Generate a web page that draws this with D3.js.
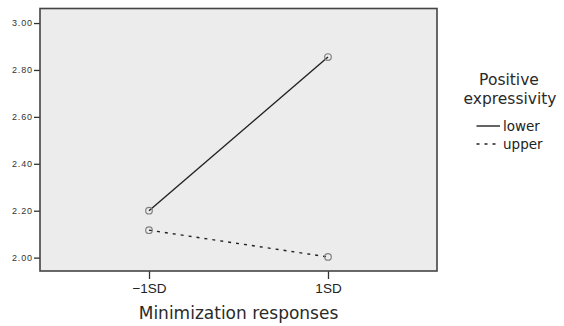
<!DOCTYPE html>
<html>
<head>
<meta charset="utf-8">
<script src="https://cdn.jsdelivr.net/npm/d3@7"></script>
<style>
  body { margin: 0; background: #fff; }
  svg { display: block; font-family: "DejaVu Sans", sans-serif; }
</style>
</head>
<body>
<svg id="canvas"></svg>
<script>
const xLabels = ['\u22121SD', '1SD']
const seriesNames = ['lower', 'upper']
const lowerValues = [2.20, 2.855]
const upperValues = [2.117, 2.003]
const yTicks = [2.00, 2.20, 2.40, 2.60, 2.80, 3.00]

const width = 564
const height = 326
const plot = { left: 40, right: 437, top: 8.5, bottom: 271 }

let svg = d3.select('#canvas').attr('width', width).attr('height', height)

let xScale = d3.scalePoint()
    .domain(xLabels)
    .range([plot.left, plot.right])
    .padding(0.609)

let yScale = d3.scaleLinear()
    .domain([1.943, 3.062])
    .range([plot.bottom, plot.top])

// plot background
svg.append('rect')
    .attr('x', plot.left)
    .attr('y', plot.top)
    .attr('width', plot.right - plot.left)
    .attr('height', plot.bottom - plot.top)
    .attr('fill', '#ececec')

// axes
let yAxis = d3.axisLeft(yScale)
    .tickValues(yTicks)
    .tickSize(6)
    .tickPadding(1)
    .tickFormat(d3.format('.2f'))

let gy = svg.append('g')
    .attr('transform', 'translate(' + plot.left + ',0)')
    .call(yAxis)
gy.select('.domain').remove()
gy.selectAll('line').attr('stroke', '#333').attr('stroke-width', 1.3)
gy.selectAll('text')
    .attr('fill', '#333')
    .style('font-size', '9px')
    .style('letter-spacing', '0.9px')

let xAxis = d3.axisBottom(xScale).tickSize(8).tickPadding(4)

let gx = svg.append('g')
    .attr('transform', 'translate(0,' + plot.bottom + ')')
    .call(xAxis)
gx.select('.domain').remove()
gx.selectAll('line').attr('stroke', '#333').attr('stroke-width', 1.3)
gx.selectAll('text')
    .attr('fill', '#222')
    .style('font-size', '13.5px')

// series
let series = [
    { name: seriesNames[0], values: lowerValues, dash: null },
    { name: seriesNames[1], values: upperValues, dash: '3,5' }
]

let line = d3.line()
    .x((d, i) => xScale(xLabels[i]))
    .y(d => yScale(d))

series.forEach(s => {
    svg.append('path')
        .datum(s.values)
        .attr('d', line)
        .attr('fill', 'none')
        .attr('stroke', '#222')
        .attr('stroke-width', 1.4)
        .attr('stroke-dasharray', s.dash)

    svg.selectAll('.pt-' + s.name)
        .data(s.values)
        .enter()
        .append('circle')
        .attr('cx', (d, i) => xScale(xLabels[i]))
        .attr('cy', d => yScale(d))
        .attr('r', 3.3)
        .attr('fill', 'none')
        .attr('stroke', '#808080')
        .attr('stroke-width', 1.2)
})

// border
svg.append('rect')
    .attr('x', plot.left)
    .attr('y', plot.top)
    .attr('width', plot.right - plot.left)
    .attr('height', plot.bottom - plot.top)
    .attr('fill', 'none')
    .attr('stroke', '#444')
    .attr('stroke-width', 1.6)

// axis title
svg.append('text')
    .attr('x', (plot.left + plot.right) / 2)
    .attr('y', 319)
    .attr('text-anchor', 'middle')
    .attr('fill', '#2a2a2a')
    .style('font-size', '17px')
    .text('Minimization responses')

// legend
let legend = svg.append('g')
legend.append('text')
    .attr('x', 509).attr('y', 85)
    .attr('text-anchor', 'middle')
    .attr('fill', '#2a2a2a')
    .style('font-size', '15.5px')
    .text('Positive')
legend.append('text')
    .attr('x', 510).attr('y', 104)
    .attr('text-anchor', 'middle')
    .attr('fill', '#2a2a2a')
    .style('font-size', '15.5px')
    .text('expressivity')

let legendY = [126, 144]
series.forEach((s, i) => {
    legend.append('line')
        .attr('x1', 476.5).attr('x2', 500)
        .attr('y1', legendY[i]).attr('y2', legendY[i])
        .attr('stroke', '#222')
        .attr('stroke-width', 1.4)
        .attr('stroke-dasharray', s.dash)
    legend.append('text')
        .attr('x', 503)
        .attr('y', legendY[i])
        .attr('dy', '0.35em')
        .attr('fill', '#222')
        .style('font-size', '13.5px')
        .text(s.name)
})
</script>
</body>
</html>
